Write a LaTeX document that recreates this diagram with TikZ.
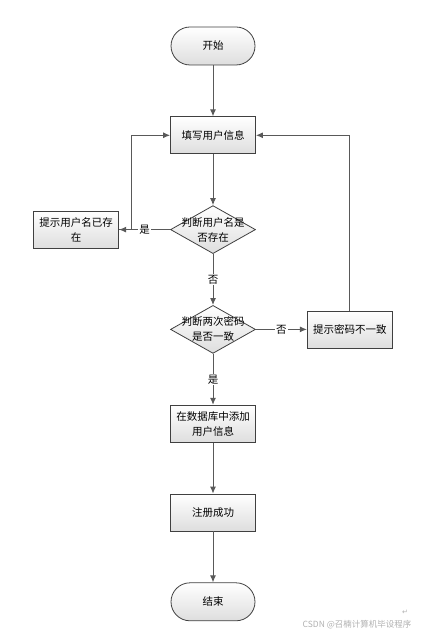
\documentclass[tikz,border=0pt]{standalone}
\usepackage{fontspec}
\setmainfont{Noto Sans CJK SC}
\newfontfamily\symfont{DejaVu Sans}
\usetikzlibrary{arrows.meta,positioning,shapes.geometric}
\definecolor{EdgeGray}{HTML}{404040}
\definecolor{LineGray}{HTML}{595959}
\definecolor{MarkGray}{HTML}{B0B0B0}

\begin{document}
\begin{tikzpicture}[
    x=1pt,y=1pt,
    node distance=51pt,
    base/.style={draw=EdgeGray,line width=0.8pt,top color=white,bottom color=black!13,
      align=center,font=\fontsize{10.5}{15}\selectfont,inner sep=0pt},
    term/.style={base,rounded corners=19pt,minimum width=84pt,minimum height=38pt},
    proc/.style={base,minimum width=85pt,minimum height=37pt},
    decide/.style={base,diamond,aspect=1.75,minimum width=85pt,minimum height=48pt},
    decidetext/.style={align=center,font=\fontsize{10.5}{15}\selectfont,inner sep=0pt},
    arrow/.style={-{Latex[length=7pt,width=6pt]},line width=1pt,color=LineGray},
    tag/.style={fill=white,inner sep=1pt,text=black,font=\fontsize{10.5}{12}\selectfont}
  ]
  \useasboundingbox (0,0) rectangle (431,-636);
  \node[term] (start) at (213,-46) {开始};
  \node[proc,below=of start] (fill) {填写用户信息};
  \node[decide,below=of fill,
    label={[decidetext]center:判断用户名是\\否存在}] (chkname) {};
  \node[proc,left=51pt of chkname] (nameexists) {提示用户名已存\\在};
  \node[decide,below=of chkname,
    label={[decidetext]center:判断两次密码\\是否一致}] (chkpwd) {};
  \node[proc,right=51pt of chkpwd] (pwderr) {提示密码不一致};
  \node[proc,below=of chkpwd] (adddb) {在数据库中添加\\用户信息};
  \node[proc,below=of adddb] (success) {注册成功};
  \node[term,below=of success] (finish) {结束};

  \draw[arrow] (start) -- (fill);
  \draw[arrow] (fill) -- (chkname);
  \draw[arrow] (chkname) -- node[tag]{是} (nameexists);
  \draw[arrow] (nameexists.east) -- ++(12,0) |- (fill.west);
  \draw[arrow] (chkname) -- node[tag]{否} (chkpwd);
  \draw[arrow] (chkpwd) -- node[tag]{否} (pwderr);
  \draw[arrow] (pwderr.north) |- (fill.east);
  \draw[arrow] (chkpwd) -- node[tag]{是} (adddb);
  \draw[arrow] (adddb) -- (success);
  \draw[arrow] (success) -- (finish);

  % watermark
  \node[text=MarkGray,font=\symfont\fontsize{7}{8}\selectfont] (retmark) at (405,-612) {↵};
  \node[text=MarkGray,font=\fontsize{8.5}{10}\selectfont] (mark) at (357,-625) {CSDN @召楠计算机毕设程序};
\end{tikzpicture}
\end{document}
